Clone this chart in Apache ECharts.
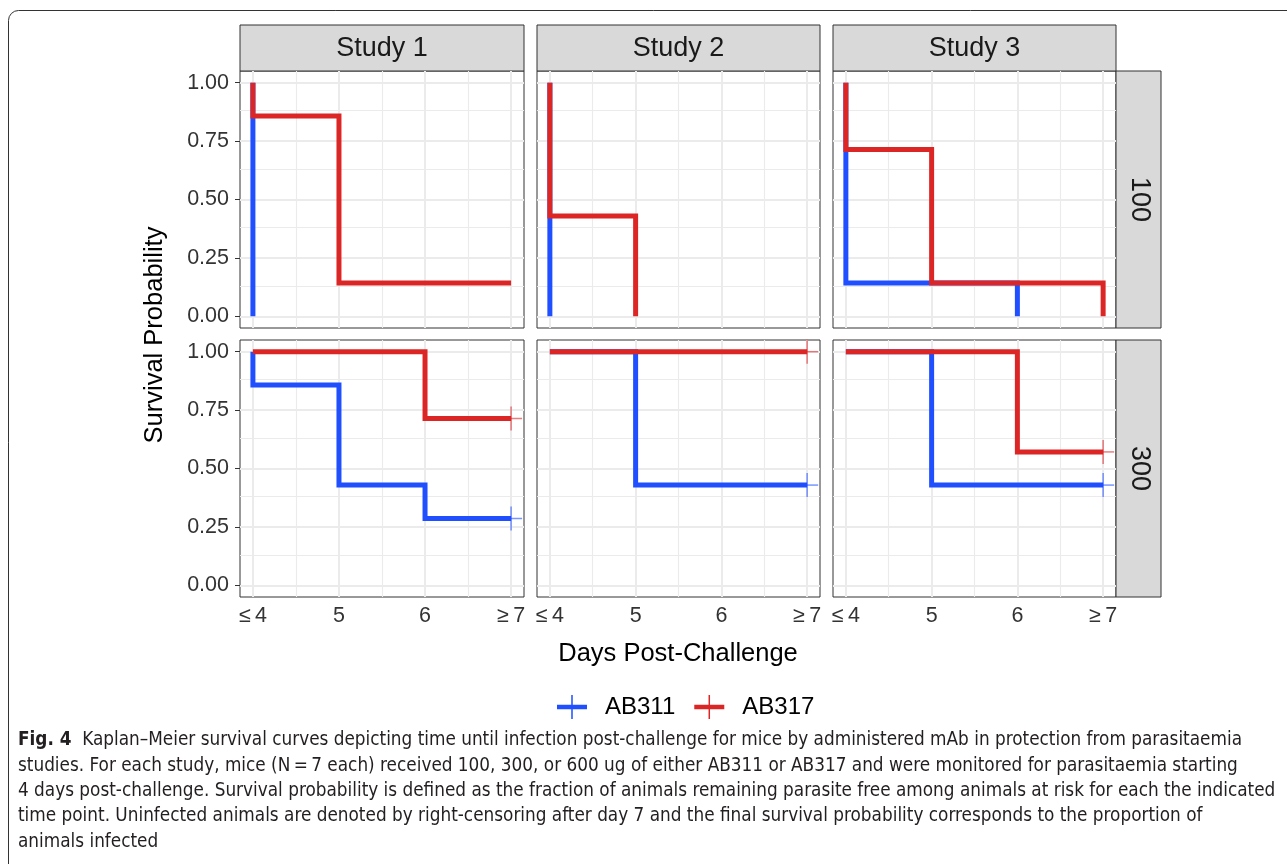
<!DOCTYPE html>
<html><head><meta charset="utf-8">
<script src="https://cdn.jsdelivr.net/npm/echarts@6/dist/echarts.min.js"></script>
<style>html,body{margin:0;padding:0;background:#fff}#c{width:1287px;height:864px}</style>
</head><body><div id="c"></div>
<script>
// ---------------- data ----------------
const studies = ['Study 1', 'Study 2', 'Study 3'];
const doses = ['100', '300'];
const groups = ['AB311', 'AB317'];
const xTickValues = [4, 5, 6, 7];
const xTickLabels = ['≤\u20094', '5', '6', '≥\u20097'];
const xMinorGrid = [4.5, 5.5, 6.5];
const yTickValues = [0, 0.25, 0.5, 0.75, 1];
const yMinorGrid = [0.125, 0.375, 0.625, 0.875];

// Kaplan–Meier curves: each starts at survival 1 on day ≤4, then steps to surv[i] at days[i]
const S1_100_AB311_days = [4];          const S1_100_AB311_surv = [0];
const S1_100_AB317_days = [4, 5, 7];    const S1_100_AB317_surv = [0.857, 0.143, 0.143];
const S2_100_AB311_days = [4];          const S2_100_AB311_surv = [0];
const S2_100_AB317_days = [4, 5];       const S2_100_AB317_surv = [0.429, 0];
const S3_100_AB311_days = [4, 6];       const S3_100_AB311_surv = [0.143, 0];
const S3_100_AB317_days = [4, 5, 7];    const S3_100_AB317_surv = [0.714, 0.143, 0];
const S1_300_AB311_days = [4, 5, 6, 7]; const S1_300_AB311_surv = [0.857, 0.429, 0.286, 0.286];
const S1_300_AB317_days = [6, 7];       const S1_300_AB317_surv = [0.714, 0.714];
const S2_300_AB311_days = [5, 7];       const S2_300_AB311_surv = [0.429, 0.429];
const S2_300_AB317_days = [7];          const S2_300_AB317_surv = [1];
const S3_300_AB311_days = [5, 7];       const S3_300_AB311_surv = [0.429, 0.429];
const S3_300_AB317_days = [6, 7];       const S3_300_AB317_surv = [0.571, 0.571];

const startDay = 4;
const censorDay = 7;
const censoredCurves = ['S1_300_AB311', 'S1_300_AB317', 'S2_300_AB311', 'S2_300_AB317', 'S3_300_AB311', 'S3_300_AB317'];

const captionLines = [
  'Kaplan–Meier survival curves depicting time until infection post-challenge for mice by administered mAb in protection from parasitaemia',
  'studies. For each study, mice (N\u2009=\u20097 each) received 100, 300, or 600 ug of either AB311 or AB317 and were monitored for parasitaemia starting',
  '4 days post-challenge. Survival probability is defined as the fraction of animals remaining parasite free among animals at risk for each the indicated',
  'time point. Uninfected animals are denoted by right-censoring after day 7 and the final survival probability corresponds to the proportion of',
  'animals infected'
];

// ---------------- layout / style ----------------
const colX = [[240, 524], [537, 820], [833, 1116]];
const rowY = [[71, 328], [340, 597]];
const stripTop = 25;
const stripRight = 1161;
const groupColor = { AB311: '#1f4fff', AB317: '#dc2626' };
const censorColor = { AB311: 'rgba(31,79,255,0.6)', AB317: 'rgba(220,38,38,0.6)' };
const FONT = '"Liberation Sans", Arial, sans-serif';
const CAPFONT = '"DejaVu Sans Condensed", "Liberation Sans", sans-serif';

const curveDays = {
  S1_100_AB311: S1_100_AB311_days, S1_100_AB317: S1_100_AB317_days,
  S2_100_AB311: S2_100_AB311_days, S2_100_AB317: S2_100_AB317_days,
  S3_100_AB311: S3_100_AB311_days, S3_100_AB317: S3_100_AB317_days,
  S1_300_AB311: S1_300_AB311_days, S1_300_AB317: S1_300_AB317_days,
  S2_300_AB311: S2_300_AB311_days, S2_300_AB317: S2_300_AB317_days,
  S3_300_AB311: S3_300_AB311_days, S3_300_AB317: S3_300_AB317_days
};
const curveSurv = {
  S1_100_AB311: S1_100_AB311_surv, S1_100_AB317: S1_100_AB317_surv,
  S2_100_AB311: S2_100_AB311_surv, S2_100_AB317: S2_100_AB317_surv,
  S3_100_AB311: S3_100_AB311_surv, S3_100_AB317: S3_100_AB317_surv,
  S1_300_AB311: S1_300_AB311_surv, S1_300_AB317: S1_300_AB317_surv,
  S2_300_AB311: S2_300_AB311_surv, S2_300_AB317: S2_300_AB317_surv,
  S3_300_AB311: S3_300_AB311_surv, S3_300_AB317: S3_300_AB317_surv
};

const grids = [], xAxes = [], yAxes = [], series = [], graphics = [];

// outer frame
graphics.push({ type: 'rect', z: -10, shape: { x: 8.5, y: 10.5, width: 1300, height: 880, r: 10 },
  style: { fill: 'none', stroke: '#333', lineWidth: 1 } });

const gridMarkData = [];
xTickValues.forEach(v => gridMarkData.push({ xAxis: v, lineStyle: { width: 2 } }));
xMinorGrid.forEach(v => gridMarkData.push({ xAxis: v, lineStyle: { width: 1.1 } }));
yTickValues.forEach(v => gridMarkData.push({ yAxis: v, lineStyle: { width: 2 } }));
yMinorGrid.forEach(v => gridMarkData.push({ yAxis: v, lineStyle: { width: 1.1 } }));

doses.forEach((dose, r) => {
  studies.forEach((study, c) => {
    const gi = r * 3 + c;
    const [x0, x1] = colX[c], [y0, y1] = rowY[r];
    grids.push({ left: x0, top: y0, width: x1 - x0, height: y1 - y0, show: true,
      borderColor: '#333', borderWidth: 1, backgroundColor: '#fff', containLabel: false, outerBoundsMode: 'none' });
    const bottomRow = r === doses.length - 1, leftCol = c === 0;
    xAxes.push({ type: 'value', gridIndex: gi, min: 3.85, max: 7.15,
      axisLine: { show: false }, splitLine: { show: false },
      axisTick: { show: bottomRow, customValues: xTickValues, length: 5, lineStyle: { color: '#333', width: 1 } },
      axisLabel: { show: bottomRow, customValues: xTickValues, margin: 8, fontSize: 21.5, fontFamily: FONT, color: '#333',
        formatter: v => { const i = xTickValues.indexOf(v); return i >= 0 ? xTickLabels[i] : ''; } } });
    yAxes.push({ type: 'value', gridIndex: gi, min: -0.05, max: 1.05,
      axisLine: { show: false }, splitLine: { show: false },
      axisTick: { show: leftCol, customValues: yTickValues, length: 5, lineStyle: { color: '#333', width: 1 } },
      axisLabel: { show: leftCol, customValues: yTickValues, margin: 11, fontSize: 21.5, fontFamily: FONT, color: '#333',
        formatter: v => v.toFixed(2) } });

    groups.forEach((g, k) => {
      const key = 'S' + (c + 1) + '_' + dose + '_' + g;
      const days = curveDays[key], surv = curveSurv[key];
      const pts = [[startDay, 1]];
      days.forEach((d, i) => pts.push([d, surv[i]]));
      const s = { type: 'line', name: g, xAxisIndex: gi, yAxisIndex: gi, data: pts, step: 'end',
        symbol: 'none', z: 3 + k, animation: false, silent: true,
        itemStyle: { color: groupColor[g] },
        lineStyle: { color: groupColor[g], width: 5, join: 'miter', cap: 'butt' } };
      if (k === 0) {
        s.markLine = { silent: true, z: 1, symbol: ['none', 'none'], animation: false,
          label: { show: false }, emphasis: { disabled: true },
          lineStyle: { color: '#ebebeb', type: 'solid' }, data: gridMarkData };
      }
      series.push(s);
      if (censoredCurves.includes(key)) {
        const col = censorColor[g];
        series.push({ type: 'custom', xAxisIndex: gi, yAxisIndex: gi, z: 6, animation: false, silent: true,
          data: [[censorDay, surv[surv.length - 1]]],
          renderItem: (params, api) => {
            const p = api.coord([api.value(0), api.value(1)]);
            return { type: 'group', children: [
              { type: 'line', shape: { x1: p[0], y1: p[1] - 12, x2: p[0], y2: p[1] + 12 }, style: { stroke: col, lineWidth: 1.5 } },
              { type: 'line', shape: { x1: p[0] - 11, y1: p[1], x2: p[0] + 11, y2: p[1] }, style: { stroke: col, lineWidth: 1.5 } }
            ] };
          } });
      }
    });
  });
});

// strips
studies.forEach((st, c) => {
  const [x0, x1] = colX[c];
  graphics.push({ type: 'rect', shape: { x: x0, y: stripTop, width: x1 - x0, height: rowY[0][0] - stripTop },
    style: { fill: '#d9d9d9', stroke: '#333', lineWidth: 1 } });
  graphics.push({ type: 'text', x: (x0 + x1) / 2, y: (stripTop + rowY[0][0]) / 2 + 1,
    style: { text: st, fontSize: 27, fontFamily: FONT, fill: '#1a1a1a', align: 'center', verticalAlign: 'middle' } });
});
doses.forEach((d, r) => {
  const [y0, y1] = rowY[r];
  const x0 = colX[2][1];
  graphics.push({ type: 'rect', shape: { x: x0, y: y0, width: stripRight - x0, height: y1 - y0 },
    style: { fill: '#d9d9d9', stroke: '#333', lineWidth: 1 } });
  graphics.push({ type: 'text', x: (x0 + stripRight) / 2 + 1, y: (y0 + y1) / 2, rotation: -Math.PI / 2,
    style: { text: d, fontSize: 27, fontFamily: FONT, fill: '#1a1a1a', align: 'center', verticalAlign: 'middle' } });
});

// axis titles
graphics.push({ type: 'text', x: 155, y: 335, rotation: Math.PI / 2,
  style: { text: 'Survival Probability', fontSize: 25.5, fontFamily: FONT, fill: '#000', align: 'center', verticalAlign: 'middle' } });
graphics.push({ type: 'text', x: 678, y: 654,
  style: { text: 'Days Post-Challenge', fontSize: 25.5, fontFamily: FONT, fill: '#000', align: 'center', verticalAlign: 'middle' } });

// caption (fit font size to reference line width)
const ctx = document.createElement('canvas').getContext('2d');
ctx.font = '100px ' + CAPFONT;
const capSize = Math.min(20, 100 * 1258 / ctx.measureText(captionLines[2]).width);
const capY = [740, 766, 791, 816, 842];
captionLines.forEach((t, i) => {
  graphics.push({ type: 'text', x: 18, y: capY[i],
    style: { text: i === 0 ? '{b|Fig. 4}  ' + t : t, fontSize: capSize, fontFamily: CAPFONT, fill: '#231f20',
      align: 'left', verticalAlign: 'middle',
      rich: { b: { fontWeight: 'bold', fontSize: capSize, fontFamily: CAPFONT, fill: '#231f20' } } } });
});

const legendIcon = 'path://M0,9.75h30v4.5h-30z M14.25,0h1.5v24h-1.5z';
const option = {
  animation: false,
  backgroundColor: '#fff',
  grid: grids, xAxis: xAxes, yAxis: yAxes, series: series,
  legend: { left: 557, top: 695, padding: 0, itemWidth: 30, itemHeight: 24, itemGap: 19, selectedMode: false,
    textStyle: { fontSize: 24, fontFamily: FONT, color: '#000', padding: [0, 0, 0, 13] },
    data: groups.map(g => ({ name: g, icon: legendIcon })) },
  graphic: { elements: graphics }
};
const chart = echarts.init(document.getElementById('c'), null, { renderer: 'canvas' });
chart.setOption(option);
</script></body></html>
